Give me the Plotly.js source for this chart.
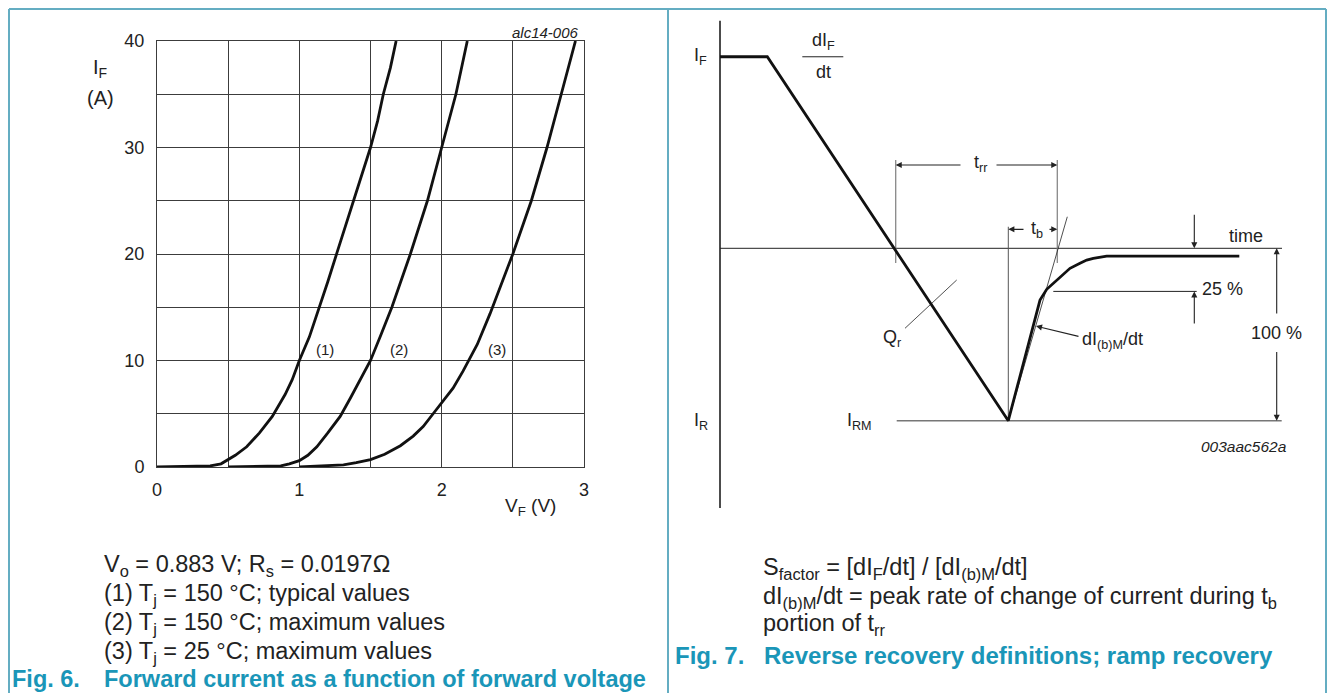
<!DOCTYPE html>
<html>
<head>
<meta charset="utf-8">
<script src="https://cdn.plot.ly/plotly-3.0.1.min.js"></script>
<style>html,body{margin:0;padding:0;background:#fff;}#chart{width:1328px;height:693px;}</style>
</head>
<body>
<div id="chart"></div>
<script>
// ---------- Fig. 6 data: forward current I_F (A) vs forward voltage V_F (V) ----------
const curve1V = [0, 0.2, 0.374, 0.45, 0.49, 0.55, 0.63, 0.72, 0.81, 0.9, 0.95, 1.0, 1.07, 1.135, 1.2, 1.264, 1.32, 1.38, 1.44, 1.5, 1.55, 1.59, 1.64, 1.68];
const curve1I = [0, 0.02, 0.1, 0.3, 0.6, 1.1, 1.9, 3.2, 4.75, 6.8, 8.2, 10, 12.2, 14.75, 17.4, 20.1, 22.5, 25, 27.5, 30, 32.5, 35, 37.5, 40];
const curve2V = [0.5, 0.87, 0.93, 1.0, 1.06, 1.123, 1.2, 1.287, 1.36, 1.43, 1.5, 1.57, 1.65, 1.78, 1.9, 2.0, 2.1, 2.18];
const curve2I = [0, 0.1, 0.3, 0.6, 1.1, 1.9, 3.2, 4.75, 6.5, 8.2, 10, 12.3, 15, 20, 25, 30, 35, 40];
const curve3V = [1.0, 1.31, 1.4, 1.5, 1.6, 1.71, 1.8, 1.87, 1.94, 2.0, 2.08, 2.15, 2.25, 2.34, 2.42, 2.5, 2.63, 2.74, 2.84, 2.94];
const curve3I = [0, 0.2, 0.4, 0.7, 1.2, 2.0, 2.9, 3.8, 5.0, 6.0, 7.4, 9.0, 11.5, 14.4, 17.2, 20, 25, 30, 35, 40];
const curveLabels = ["(1)", "(2)", "(3)"];
const xTickVals = [0, 1, 2, 3];
const yTickVals = [0, 10, 20, 30, 40];

// ---------- Fig. 7 schematic (normalised: I_RM = -1, time in arbitrary units) ----------
const waveT = [0, 0.473, 2.883, 3.20, 3.267, 3.333, 3.40, 3.50, 3.60, 3.667, 3.733, 3.867, 5.193];
const waveI = [1.111, 1.111, -1, -0.300, -0.238, -0.203, -0.165, -0.116, -0.087, -0.068, -0.058, -0.045, -0.045];
const IF_level = 1.111, IRM_level = -1, zeroLevel = 0, pct25Level = -0.25;
const tZeroCross = 1.757, tIRM = 2.883, tRRend = 3.373;
const tangentT = [2.883, 3.473], tangentI = [-1, 0.183];
const qrT = [1.85, 2.367], qrI = [-0.464, -0.184];

const FONT = "Liberation Sans, Arial, Helvetica, sans-serif";
const W = 1328, H = 693;
const px = x => x / W, py = y => 1 - y / H;

const traces = [
  {x: curve1V, y: curve1I, mode: 'lines', line: {color: '#111', width: 2.8}, xaxis: 'x', yaxis: 'y'},
  {x: curve2V, y: curve2I, mode: 'lines', line: {color: '#111', width: 2.8}, xaxis: 'x', yaxis: 'y'},
  {x: curve3V, y: curve3I, mode: 'lines', line: {color: '#111', width: 2.8}, xaxis: 'x', yaxis: 'y'},
  // right schematic
  {x: [0, 0], y: [1.32, -1.506], mode: 'lines', line: {color: '#111', width: 1.5}, xaxis: 'x2', yaxis: 'y2'},
  {x: [0, 5.62], y: [zeroLevel, zeroLevel], mode: 'lines', line: {color: '#222', width: 1}, xaxis: 'x2', yaxis: 'y2'},
  {x: [1.767, 5.617], y: [IRM_level, IRM_level], mode: 'lines', line: {color: '#777', width: 1.5}, xaxis: 'x2', yaxis: 'y2'},
  {x: [tZeroCross, tZeroCross], y: [0.512, -0.085], mode: 'lines', line: {color: '#888', width: 1.3}, xaxis: 'x2', yaxis: 'y2'},
  {x: [tRRend, tRRend], y: [0.512, -0.085], mode: 'lines', line: {color: '#888', width: 1.3}, xaxis: 'x2', yaxis: 'y2'},
  {x: [tIRM, tIRM], y: [0.125, IRM_level], mode: 'lines', line: {color: '#555', width: 1}, xaxis: 'x2', yaxis: 'y2'},
  {x: tangentT, y: tangentI, mode: 'lines', line: {color: '#222', width: 0.8}, xaxis: 'x2', yaxis: 'y2'},
  {x: qrT, y: qrI, mode: 'lines', line: {color: '#222', width: 0.8}, xaxis: 'x2', yaxis: 'y2'},
  {x: [3.333, 4.767], y: [pct25Level, pct25Level], mode: 'lines', line: {color: '#222', width: 1}, xaxis: 'x2', yaxis: 'y2'},
  {x: [0.823, 1.233], y: [IF_level, IF_level], mode: 'lines', line: {color: '#222', width: 1}, xaxis: 'x2', yaxis: 'y2'},
  {x: waveT, y: waveI, mode: 'lines', line: {color: '#111', width: 2.8}, xaxis: 'x2', yaxis: 'y2'}
];

function arrow(hx, hy, tx, ty) {
  return {x: hx, y: hy, ax: tx, ay: ty, xref: 'x2', yref: 'y2', axref: 'x2', ayref: 'y2',
    text: '', showarrow: true, arrowhead: 2, arrowsize: 1.1, arrowwidth: 1.1, arrowcolor: '#222', standoff: 0, startstandoff: 0};
}
function txt(text, x, y, size, opts) {
  return Object.assign({text: text, x: px(x), y: py(y), xref: 'paper', yref: 'paper', showarrow: false,
    xanchor: 'center', yanchor: 'middle', font: {family: FONT, size: size, color: '#222'}}, opts || {});
}
const TEAL = '#1a96b8';
const BODY = 23.5, CAP = 23.5, LBL = 18;
const capFont = {family: FONT, size: CAP, color: TEAL};
const lblFont = {family: FONT, size: 15, color: '#222'};
const annotations = [
  // left chart labels
  txt('I<sub>F</sub>', 100, 68, 20),
  txt('(A)', 100, 98, 20),
  txt('V<sub>F</sub> (V)', 530, 507, 19),
  txt('<i>alc14-006</i>', 581, 32, 15, {xanchor: 'right'}),
  {text: curveLabels[0], x: 1.18, y: 11, xref: 'x', yref: 'y', showarrow: false, font: lblFont},
  {text: curveLabels[1], x: 1.70, y: 11, xref: 'x', yref: 'y', showarrow: false, font: lblFont},
  {text: curveLabels[2], x: 2.39, y: 11, xref: 'x', yref: 'y', showarrow: false, font: lblFont},
  txt('V<sub>o</sub> = 0.883 V; R<sub>s</sub> = 0.0197Ω', 102, 565, BODY, {xanchor: 'left'}),
  txt('(1) T<sub>j</sub> = 150 °C; typical values', 102, 594, BODY, {xanchor: 'left'}),
  txt('(2) T<sub>j</sub> = 150 °C; maximum values', 102, 623, BODY, {xanchor: 'left'}),
  txt('(3) T<sub>j</sub> = 25 °C; maximum values', 102, 652, BODY, {xanchor: 'left'}),
  txt('<b>Fig. 6.</b>', 10, 679, CAP, {xanchor: 'left', font: capFont}),
  txt('<b>Forward current as a function of forward voltage</b>', 102, 679, CAP, {xanchor: 'left', font: capFont}),
  // right schematic labels
  txt('I<sub>F</sub>', 700, 57, LBL),
  txt('dI<sub>F</sub>', 823, 42, LBL),
  txt('dt', 823, 72, LBL),
  txt('t<sub>rr</sub>', 980, 163, LBL),
  txt('t<sub>b</sub>', 1037, 229, LBL),
  txt('time', 1246, 236, LBL),
  txt('25 %', 1222, 289, LBL),
  txt('100 %', 1276, 333, LBL),
  txt('dI<sub>(b)M</sub>/dt', 1080, 340, LBL, {xanchor: 'left'}),
  txt('Q<sub>r</sub>', 892, 338, LBL),
  txt('I<sub>R</sub>', 701, 421, LBL),
  txt('I<sub>RM</sub>', 859, 421, LBL),
  txt('<i>003aac562a</i>', 1289, 446, 15.5, {xanchor: 'right'}),
  txt('S<sub>factor</sub> = [dI<sub>F</sub>/dt] / [dI<sub>(b)M</sub>/dt]', 761, 568, BODY, {xanchor: 'left'}),
  txt('dI<sub>(b)M</sub>/dt = peak rate of change of current during t<sub>b</sub>', 761, 597, BODY, {xanchor: 'left'}),
  txt('portion of t<sub>rr</sub>', 761, 624, BODY, {xanchor: 'left'}),
  txt('<b>Fig. 7.</b>', 673, 655, 24, {xanchor: 'left', font: {family: FONT, size: 24, color: TEAL}}),
  txt('<b>Reverse recovery definitions; ramp recovery</b>', 762, 655, 24, {xanchor: 'left', font: {family: FONT, size: 24, color: TEAL}}),
  // arrows
  arrow(tZeroCross, 0.483, 2.42, 0.483),
  arrow(tRRend, 0.483, 2.75, 0.483),
  arrow(tIRM, 0.11, 3.05, 0.11),
  arrow(tRRend, 0.11, 3.28, 0.11),
  arrow(4.743, zeroLevel, 4.743, 0.203),
  arrow(4.743, pct25Level, 4.743, -0.445),
  arrow(5.567, zeroLevel, 5.567, -0.387),
  arrow(5.567, IRM_level, 5.567, -0.593),
  arrow(3.16, -0.451, 3.60, -0.513)
];

const BORDER = '#64adc2';
const shapes = [
  {type: 'line', xref: 'paper', yref: 'paper', x0: px(9), x1: px(1326), y0: py(9), y1: py(9), line: {color: BORDER, width: 2}},
  {type: 'line', xref: 'paper', yref: 'paper', x0: px(9), x1: px(9), y0: py(9), y1: 0, line: {color: BORDER, width: 2}},
  {type: 'line', xref: 'paper', yref: 'paper', x0: px(668), x1: px(668), y0: py(9), y1: 0, line: {color: BORDER, width: 2}},
  {type: 'line', xref: 'paper', yref: 'paper', x0: px(1326), x1: px(1326), y0: py(9), y1: 0, line: {color: BORDER, width: 2}}
];

const GRID = '#3c3c3c';
const layout = {
  width: W, height: H, margin: {l: 0, r: 0, t: 0, b: 0},
  paper_bgcolor: '#fff', plot_bgcolor: 'rgba(0,0,0,0)', showlegend: false,
  xaxis: {domain: [px(157), px(584)], range: [0, 3], tickvals: xTickVals, showgrid: true, gridcolor: GRID, gridwidth: 1,
    minor: {dtick: 0.5, showgrid: true, gridcolor: GRID, gridwidth: 1}, showline: true, mirror: true, linecolor: GRID, linewidth: 1,
    zeroline: false, ticks: 'outside', ticklen: 6, tickcolor: 'rgba(0,0,0,0)', tickfont: {family: FONT, size: 18, color: '#222'}, fixedrange: true},
  yaxis: {domain: [py(467), py(41)], range: [0, 40], tickvals: yTickVals, showgrid: true, gridcolor: GRID, gridwidth: 1,
    minor: {dtick: 5, showgrid: true, gridcolor: GRID, gridwidth: 1}, showline: true, mirror: true, linecolor: GRID, linewidth: 1,
    zeroline: false, ticks: 'outside', ticklen: 8, tickcolor: 'rgba(0,0,0,0)', tickfont: {family: FONT, size: 18, color: '#222'}, fixedrange: true},
  xaxis2: {domain: [0.5, 1], range: [-0.56, 6.08], visible: false, anchor: 'y2', fixedrange: true},
  yaxis2: {domain: [0, 1], range: [-2.5795, 1.4403], visible: false, anchor: 'x2', fixedrange: true},
  annotations: annotations,
  shapes: shapes
};

Plotly.newPlot('chart', traces, layout, {staticPlot: true, displayModeBar: false});
</script>
</body>
</html>
